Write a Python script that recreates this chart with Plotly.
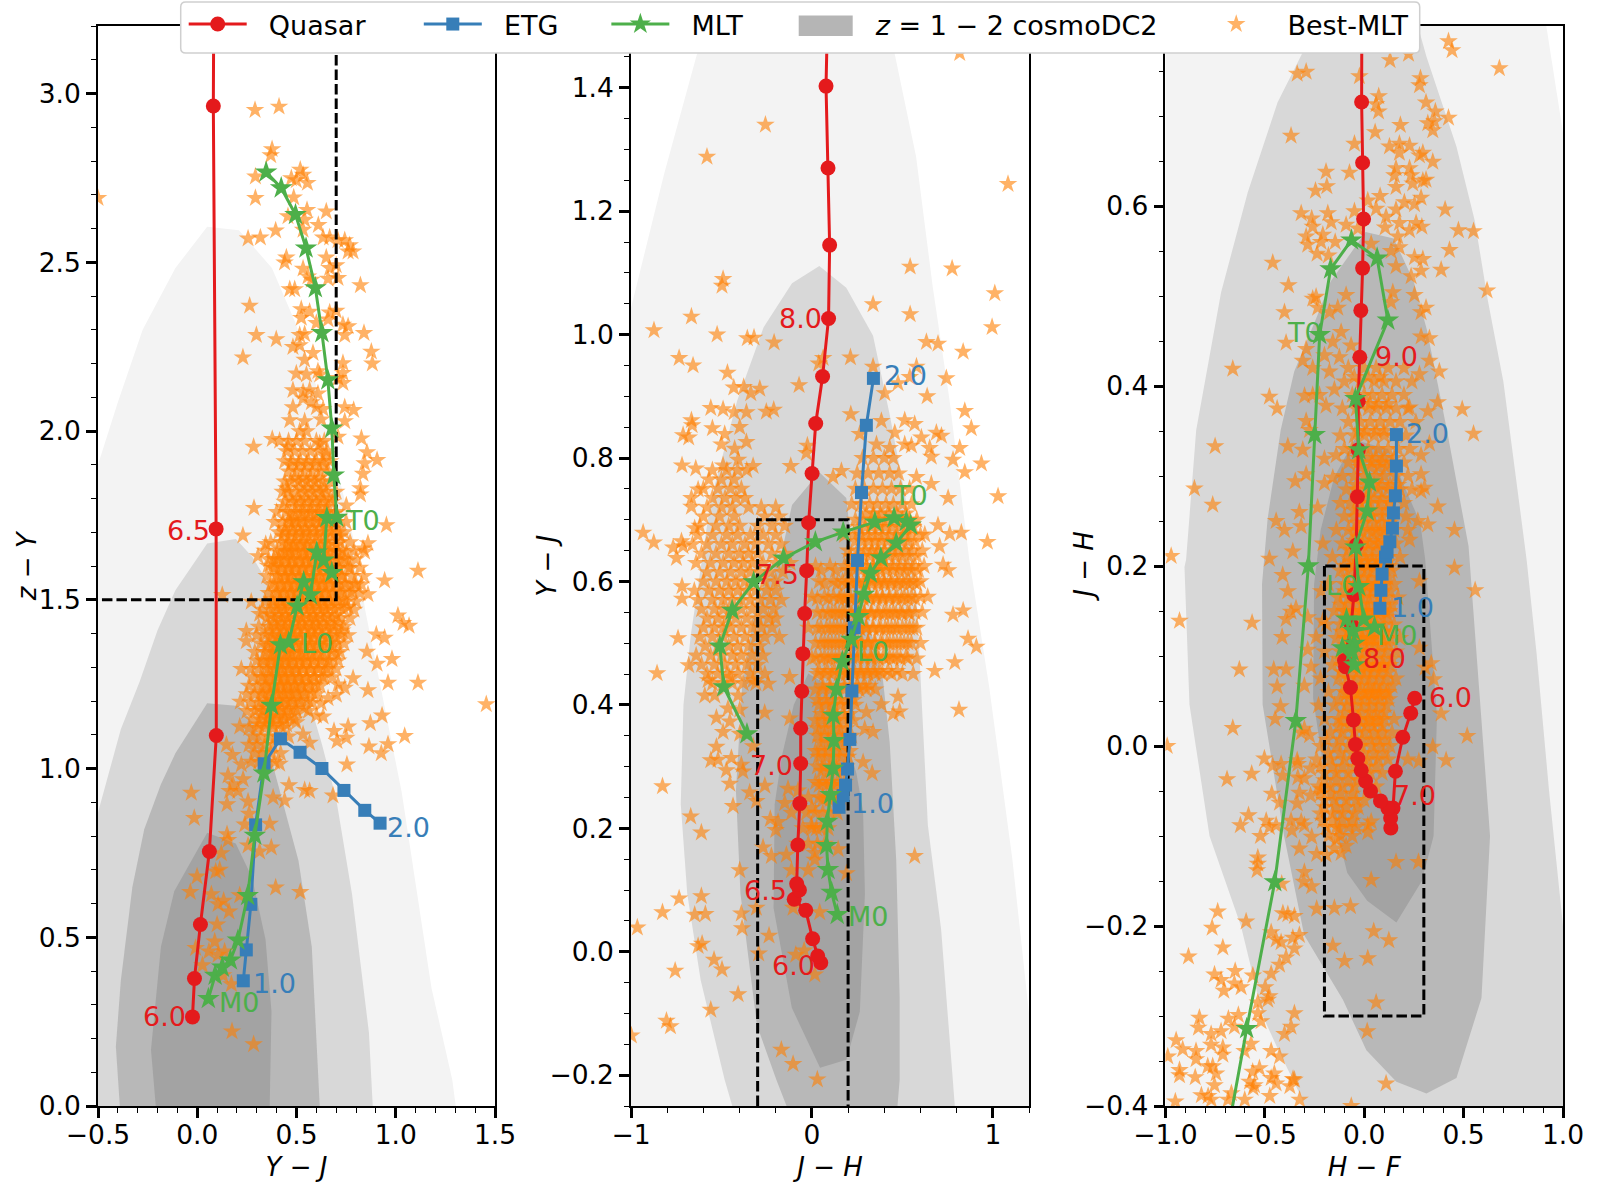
import plotly.graph_objects as go

# ---- colours
RED, BLUE, GREEN, ORANGE = "#e41a1c", "#377eb8", "#4daf4a", "#ff7f00"
LEVELS = ["#f3f3f3", "#d8d8d8", "#b8b8b8", "#a3a3a3"]

# ---- sequences (x, y)
q1 = [(-.024,.264),(-.014,.378),(.016,.538),(.061,.754),(.096,1.098),(.095,1.71),(.081,2.963),(.088,3.9)]
e1 = [(.232,.371),(.247,.4625),(.270,.5975),(.294,.833),(.337,1.014),(.419,1.088),(.518,1.048),(.628,1.0),(.739,.935),(.844,.876),(.921,.838)]
m1 = [(.056,.318),(.09,.387),(.126,.411),(.167,.432),(.205,.491),(.254,.623),(.29,.802),(.336,.986),(.374,1.187),(.419,1.366),(.461,1.374),(.503,1.481),(.536,1.553),(.57,1.514),(.602,1.641),(.678,1.58),(.637,1.617),(.653,1.743),(.703,1.744),(.688,1.869),(.678,2.008),(.658,2.151),(.628,2.291),(.595,2.424),(.548,2.542),(.495,2.641),(.423,2.72),(.347,2.767)]

q2 = [(.049,-.018),(.032,-.007),(.004,.021),(-.034,.067),(-.098,.085),(-.069,.10),(-.084,.11),(-.078,.173),(-.067,.24),(-.062,.305),(-.062,.362),(-.056,.422),(-.05,.483),(-.04,.548),(-.029,.6175),(-.018,.695),(.001,.775),(.021,.856),(.059,.932),(.092,1.026),(.098,1.145),(.089,1.27),(.078,1.4026),(.1,1.7)]
e2 = [(.15,.234),(.173,.253),(.186,.27),(.197,.296),(.21,.344),(.221,.4225),(.234,.525),(.252,.634),(.274,.744),(.301,.853),(.34,.929)]
m2 = [(.14,.06),(.109,.096),(.089,.133),(.081,.172),(.085,.211),(.103,.2545),(.117,.297),(.122,.342),(.118,.383),(.136,.425),(.168,.47),(.217,.506),(.256,.543),(.287,.579),(.323,.613),(.381,.638),(.466,.662),(.546,.691),(.522,.697),(.454,.703),(.348,.696),(.173,.68),(.019,.664),(-.157,.6375),(-.322,.599),(-.441,.553),(-.509,.495),(-.487,.429),(-.359,.353)]

q3 = [(.254,.053),(.234,.0365),(.194,.0097),(.157,-.028),(.145,-.069),(.134,-.091),(.133,-.08),(.119,-.069),(.082,-.061),(.032,-.05),(.007,-.039),(-.015,-.027),(-.032,-.014),(-.044,.0016),(-.054,.029),(-.069,.065),(-.094,.088),(-.099,.095),(-.065,.135),(-.052,.168),(-.04,.223),(-.034,.277),(-.03,.329),(-.03,.383),(-.022,.432),(-.017,.484),(-.008,.531),(-.003,.5855),(-.008,.648),(-.013,.7155),(-.01,.95)]
e3 = [(.079,.153),(.084,.173),(.09,.191),(.107,.21),(.115,.2155),(.129,.227),(.142,.242),(.147,.259),(.157,.278),(.162,.311),(.162,.346)]
m3 = [(.052,.132),(-.055,.128),(-.05,.114),(-.11,.109),(-.05,.09),(-.06,.105),(-.089,.141),(-.002,.141),(-.027,.177),(-.044,.221),(.015,.261),(.027,.293),(-.027,.329),(-.044,.386),(.119,.473),(.065,.542),(-.064,.562),(-.169,.53),(-.224,.457),(-.249,.346),(-.281,.2),(-.344,.028),(-.45,-.151),(-.591,-.314),(-.72,-.47)]

# ---- cosmoDC2 density outlines, outermost first
c1 = [
 [(-.5,0),(-.5,1.9),(-.4,2.085),(-.275,2.3),(-.11,2.483),(.05,2.605),(.21,2.595),(.376,2.483),(.495,2.32),(.61,2.115),(.745,1.79),(.796,1.656),(.846,1.47),(1.03,.93),(1.18,.35),(1.285,.077),(1.302,0)],
 [(-.5,0),(-.5,.87),(-.385,1.116),(-.29,1.258),(-.2,1.41),(-.11,1.528),(-.007,1.617),(.05,1.667),(.195,1.68),(.28,1.625),(.36,1.546),(.56,1.208),(.627,1.074),(.70,.91),(.78,.627),(.865,.217),(.884,0)],
 [(-.39,0),(-.41,.176),(-.385,.372),(-.327,.648),(-.267,.82),(-.183,.953),(-.11,1.045),(.05,1.193),(.21,1.185),(.28,1.136),(.37,1.034),(.445,.87),(.51,.727),(.577,.472),(.617,0)],
 [(-.209,0),(-.233,.167),(-.183,.472),(-.116,.636),(.05,.81),(.194,.778),(.276,.677),(.344,.493),(.374,.28),(.365,0)],
]
c2 = [
 [(-1,-.25),(-1,1.043),(-.817,1.26),(-.634,1.456),(-.6,1.5),(.44,1.5),(.457,1.456),(.576,1.288),(.668,1.077),(.76,.895),(.87,.635),(.98,.429),(1.108,.15),(1.2,-.1),(1.2,-.25)],
 [(-.44,-.25),(-.482,-.208),(-.615,-.046),(-.689,.094),(-.725,.239),(-.71,.40),(-.67,.512),(-.606,.64),(-.56,.73),(-.414,.892),(-.267,1.012),(-.11,1.083),(.041,1.111),(.19,1.076),(.338,.998),(.43,.87),(.521,.73),(.568,.636),(.604,.429),(.641,.205),(.714,.037),(.78,-.208),(.79,-.25)],
 [(-.14,-.25),(-.196,-.208),(-.304,-.119),(-.395,.094),(-.42,.261),(-.386,.429),(-.325,.54),(-.267,.596),(-.175,.636),(-.11,.724),(.041,.777),(.19,.735),(.228,.636),(.393,.44),(.43,.339),(.466,.149),(.485,-.074),(.485,-.208),(.473,-.25)],
 [(.045,-.188),(-.111,-.091),(-.212,.071),(-.206,.239),(-.166,.317),(-.10,.40),(-.02,.451),(.10,.429),(.246,.289),(.283,.227),(.293,.094),(.265,-.097),(.191,-.175)],
]
c3 = [
 [(-1,-.4),(-1,.8),(.916,.8),(1,.681),(1,-.4)],
 [(-.3,-.4),(-.31,-.393),(-.44,-.334),(-.51,-.30),(-.62,-.2),(-.778,-.1),(-.879,.046),(-.904,.199),(-.896,.207),(-.845,.351),(-.72,.504),(-.586,.615),(-.436,.715),(-.302,.774),(-.25,.8),(.27,.8),(.313,.766),(.464,.666),(.556,.584),(.622,.495),(.70,.405),(.817,.207),(.867,.103),(.93,-.05),(1,-.2),(1,-.4)],
 [(.313,-.386),(.162,-.373),(.011,-.338),(-.107,-.282),(-.302,-.21),(-.403,-.1),(-.511,.046),(-.514,.18),(-.486,.252),(-.42,.351),(-.352,.416),(-.236,.478),(-.169,.516),(.007,.571),(.149,.564),(.249,.516),(.316,.462),(.416,.351),(.525,.222),(.633,-.1),(.59,-.28),(.464,-.369)],
 [(.162,-.196),(.015,-.172),(-.085,-.141),(-.185,-.053),(-.257,.053),(-.252,.18),(-.219,.24),(-.152,.298),(-.05,.34),(.12,.33),(.282,.248),(.307,.207),(.316,.18),(.366,.034),(.349,-.1),(.29,-.15)],
]

# ---- Best-MLT, isolated stars read one by one
s1 = [(.291,2.951),(.412,2.961),(.377,2.835),(.37,2.817),(.293,2.754),(.519,2.774),(.474,2.749),(.499,2.743),(.533,2.759),(.555,2.735),(.293,2.69),(.486,2.692),(.553,2.655),(.65,2.65),(.457,2.636),(.541,2.626),(.61,2.61),(.533,2.596),(.395,2.594),(.256,2.57),(.318,2.573),(.634,2.573),(.667,2.573),(.709,2.565),(.743,2.565),(.768,2.55),(.76,2.532),(.785,2.532),(.449,2.514),(.44,2.499),(.65,2.514),(.667,2.483),(.7,2.491),(.533,2.481),(.558,2.458),(.575,2.448),(.659,2.451),(.709,2.453),(.822,2.432),(.466,2.42),(.491,2.42),(.264,2.371),(.524,2.361),(.566,2.353),(.667,2.351),(.7,2.356),(.524,2.335),(.6,2.32),(.659,2.33),(.734,2.315),(.76,2.31),(.84,2.29),(.298,2.284),(.398,2.272),(.516,2.284),(.541,2.287),(.743,2.284),(.482,2.249),(.516,2.254),(.583,2.231),(.877,2.235),(.23,2.218),(.541,2.211),(.882,2.2),(.734,2.201),(.499,2.17),(.55,2.167),(.608,2.177),(.617,2.167),(.734,2.172),(.709,2.157),(.734,2.142),(.482,2.121),(.533,2.116),(.566,2.121),(.608,2.111),(.533,2.096),(.575,2.085),(.482,2.07),(.6,2.07),(.634,2.065),(.743,2.07),(.788,2.062),(.466,2.032),(.541,2.029),(.625,2.034),(.743,2.029),(.516,1.999),(.55,1.999),(.709,1.983),(.827,1.978),(.378,1.976),(.415,1.971),(.284,1.953),(.457,1.953),(.617,1.963),(.855,1.937),(.65,1.93),(.906,1.914),(.843,1.904),(.835,1.873),(.822,1.83),(.822,1.812),(.286,1.772),(.953,1.721),(.23,1.69),(.345,1.665),(.86,1.667),(.835,1.652),(.751,1.779),
(.306,1.629),(.385,1.621),(.356,1.601),(.843,1.642),(1.112,1.586),(.944,1.557),(.86,1.516),(.827,1.545),(.126,1.514),(.272,1.494),(.314,1.458),(1.011,1.453),(1.037,1.431),(1.067,1.423),(.902,1.397),(.944,1.387),(.247,1.407),(.247,1.377),(.855,1.346),(.906,1.31),(.981,1.324),(.222,1.295),(1.112,1.254),(.961,1.254),(.785,1.267),(.86,1.232),(1.456,1.19),(.709,1.249),(.743,1.239),(.701,1.218),(.659,1.208),(.625,1.193),(.931,1.157),(.6,1.157),(.634,1.154),(.872,1.134),(.217,1.198),(.214,1.124),(.499,1.137),(.76,1.124),(.689,1.111),(1.045,1.096),(.704,1.081),(.751,1.091),(.865,1.065),(.961,1.072),(.927,1.045),(.566,1.076),(.533,1.101),(.147,1.07),(.177,1.04),(.754,1.012),(.222,1.012),(.415,1.014),(.155,.979),(.231,.968),(.18,.953),(.163,.933),(.205,.933),(.462,.95),(.541,.936),(.566,.933),(.684,.92),(-.03,.928),(.15,.894),(.382,.914),(.44,.905),(.256,.902),(-.015,.853),(.239,.834),(.365,.836),(.261,.866),(.15,.805),(.155,.788),(.256,.772),(.373,.766),(.314,.754),(.121,.749),(.093,.695),(.113,.7),(-.001,.68),(-.035,.634),(.071,.627),(.395,.647),(.519,.634),(.214,.624),(.133,.608),(.105,.598),(.16,.576),(.1,.538),(.088,.487),(-.008,.468),(.059,.458),(.105,.448),(.138,.458),(.026,.417),(.13,.387),(.172,.361),(.175,.221),(.284,.183),(-.5,2.69)]
s2 = [(-.257,1.34),(-.58,1.288),(1.084,1.244),(.817,1.456),(-.491,1.09),(-.497,1.079),(.543,1.11),(.775,1.107),(1.011,1.067),(.338,1.049),(.543,1.033),(-.666,1.029),(-.873,1.007),(.996,1.012),(-.524,1),(-.357,.994),(-.32,.995),(-.209,.987),(.633,.988),(.697,.985),(.836,.972),(-.734,.962),(-.657,.95),(-.467,.938),(.062,.962),(.038,.953),(.213,.963),(.338,.948),(.578,.948),(-.432,.914),(-.377,.915),(-.338,.905),(-.288,.912),(-.071,.918),(.476,.921),(.403,.905),(.743,.929),(.637,.9),(.541,.931),(-.559,.881),(-.491,.879),(-.43,.874),(-.362,.874),(-.252,.875),(-.211,.878),(.215,.871),(.384,.86),(.513,.861),(.568,.855),(.845,.876),(.881,.848),(-.666,.861),(-.662,.853),(-.55,.848),(-.399,.85),(-.712,.837),(-.681,.833),(-.482,.839),(.264,.839),(.458,.841),(.688,.841),(.716,.836),(-.362,.826),(-.5,.822),(-.427,.815),(-.025,.82),(.357,.822),(.43,.816),(.513,.822),(.55,.82),(.605,.833),(.651,.816),(.817,.816),(-.031,.808),(.66,.802),(.78,.797),(.937,.791),(.845,.777),(-.718,.788),(-.642,.783),(-.491,.788),(-.408,.797),(-.325,.787),(-.117,.787),(.163,.779),(.117,.769),(1.029,.738),(.753,.735),(-.933,.679),(-.874,.663),(-.767,.655),(-.721,.665),(-.712,.657),(-.648,.686),(-.666,.735),(-.666,.721),(-.629,.749),(.826,.679),(.762,.677),(.697,.691),(.706,.657),(.97,.664),(.66,.758),(.578,.769),(.624,.676),
(-.749,.638),(-.718,.592),(-.718,.572),(-.74,.508),(-.681,.464),(-.856,.451),(-.826,.268),(-.67,.219),(-.611,.193),(-.436,.236),(.836,.553),(.78,.546),(.725,.627),(.753,.618),(.863,.507),(.909,.494),(.79,.469),(.679,.455),(.813,.392),(.476,.413),(.485,.389),(.449,.385),(.384,.401),(.301,.388),(.292,.361),(.338,.356),(.283,.307),(.333,.289),(.568,.155),(.191,.127),(-.399,.132),(-.611,.09),(-.734,.086),(-.826,.064),(-.648,.06),(-.589,.061),(-.39,.062),(-.307,.071),(-.386,.038),(-.965,.039),(-.237,.026),(-.629,.009),(-.607,.013),(-.294,-.003),(-.541,-.013),(-.497,-.029),(-.756,-.031),(-.408,-.069),(-.559,-.094),(-.804,-.112),(-.782,-.121),(-.998,-.136),(-.169,-.159),(-.104,-.182),(.03,-.207),(.016,-.037),(-.043,.002),(-.089,-.005),(.043,.064),(-.104,.071),(-.224,.155),(-.141,.157),(.016,.16),(.145,.166),(-.27,.169),(.016,.149),(-.113,.132),(-.021,.132),(-.23,.215),(-.187,.21),(-.2,.197),(-.15,.241),(-.113,.225),(-.003,.205),(.025,.2),(-.26,.269),(-.344,.258),(-.307,.244),(-.132,.264),(-.077,.261),(0,.233),(-.559,.31),(-.519,.311),(-.445,.314),(-.473,.294),(-.39,.303),(-.381,.292),(-.454,.272),(-.528,.332),(-.325,.333),(-.491,.356),(-.399,.353),(-.454,.373),(-.528,.379),(-.464,.394),(-.399,.392),(-.261,.387),(-.123,.378),(-.592,.415),(-.537,.415),(-.408,.415),(-.574,.44),(-.325,.44),(-.242,.434),(-.454,.445),(-.123,.445)]
s3 = [(.424,.783),(.442,.773),(.68,.753),(.223,.769),(.13,.762),(-.024,.744),(-.337,.747),(-.292,.749),(.283,.742),(.278,.734),(.073,.722),(.06,.713),(.072,.705),(.311,.715),(.358,.705),(.32,.692),(.353,.694),(.424,.698),(.345,.684),(.182,.69),(.055,.682),(-.368,.678),(-.049,.669),(.127,.666),(.177,.669),(.228,.667),(.177,.659),(.295,.659),(.278,.656),(.345,.649),(-.192,.638),(-.074,.637),(.16,.642),(.228,.642),(.152,.634),(.236,.634),(.311,.629),(.295,.628),(-.188,.622),(-.245,.617),(.16,.621),(.244,.625),(.018,.606),(.08,.611),(.286,.609),(-.317,.592),(-.183,.592),(-.264,.586),(-.166,.582),(-.049,.594),(.06,.597),(.11,.588),(.16,.596),(.202,.604),(.253,.602),(.407,.596),(.474,.573),(.55,.572),(-.259,.577),(-.091,.579),(-.032,.575),(.105,.576),(.177,.581),(.228,.573),(.261,.581),(.29,.577),(-.292,.566),(-.208,.568),(-.284,.557),(-.217,.56),(-.146,.56),(.035,.558),(.169,.566),(.177,.554),(.135,.55),(.429,.551),(-.237,.547),(-.18,.545),(-.46,.537),(.16,.533),(.253,.543),(.295,.541),(.286,.528),(.387,.529),(-.381,.512),(.618,.506),(.236,.522),(-.091,.501),(-.242,.499),(-.259,.497),(-.234,.487),(-.401,.482),(-.175,.482),(-.133,.487),(.144,.504),(.135,.493),(.253,.501),(.311,.487),(.286,.482),(-.116,.46),(-.393,.448),(-.158,.449),(.286,.455),(.328,.453),(-.292,.441),(-.066,.445),(-.661,.419),(-.309,.428),(-.259,.42),(-.2,.434),(-.125,.432),(-.175,.416),(.328,.428),(.378,.416),(.278,.413),(-.477,.388),(-.438,.375),(-.3,.389),(-.225,.39),(-.259,.39),(-.192,.378),(-.15,.396),(.228,.376),(.32,.372),(.37,.382),(.493,.374),(-.292,.361),(-.275,.351),(.55,.347),(-.75,.333),(-.384,.333),(-.309,.329),(-.2,.319),(-.141,.323),(.286,.323),(.328,.336),(-.854,.286),(-.762,.268),(-.347,.294),(-.292,.302),(-.158,.298),(-.2,.292),(.286,.302),(.303,.287),(.286,.283),(-.443,.25),(-.401,.24),(-.326,.26),(-.317,.244),(-.234,.265),(.37,.266),(.454,.24),(.27,.25),(.32,.246),(.228,.229),(-.971,.211),(-.359,.216),(-.208,.225),
(-.929,.139),(-.564,.137),(.454,.198),(.558,.173),(-.477,.208),(-.41,.19),(-.384,.172),(-.343,.153),(-.368,.149),(-.393,.141),(-.413,.121),(-.284,.143),(-.242,.121),(-.217,.172),(-.208,.139),(-.628,.085),(-.455,.085),(-.393,.085),(.337,.092),(.306,.087),(.278,.109),(.278,.183),(.35,.074),(-.284,.107),(-.267,.088),(-.301,.067),(-.438,.066),(-.421,.044),(-.448,.03),(-.661,.02),(.387,.036),(.518,.011),(.345,-.001),(.412,-.016),(.275,-.017),(.219,-.015),(-.991,0),(-.301,.019),(-.275,.012),(-.317,.015),(-.502,-.014),(-.46,-.022),(-.418,-.02),(-.337,-.016),(-.334,-.02),(-.27,-.025),(-.69,-.037),(-.566,-.031),(-.41,-.033),(-.334,-.035),(-.301,-.036),(-.217,-.048),(-.465,-.053),(-.326,-.052),(-.27,-.055),(-.426,-.063),(-.337,-.064),(-.582,-.077),(-.623,-.088),(-.493,-.083),(-.477,-.09),(-.443,-.088),(-.368,-.083),(-.317,-.084),(-.301,-.088),(-.364,-.094),(-.522,-.1),(-.264,-.101),(-.326,-.114),(-.239,-.12),(-.192,-.121),(-.125,-.092),(-.141,-.104),(-.091,-.111),(-.15,-.114),(-.116,-.119),(.018,-.088),(.035,-.084),(.018,-.096),(.16,-.129),(.273,-.129),(-.535,-.124),(-.535,-.131),(-.539,-.138),(-.301,-.14),(-.304,-.151),(-.264,-.156),(.035,-.149),(-.737,-.184),(-.415,-.153),(-.239,-.181),(-.15,-.18),(-.069,-.178),(-.594,-.195),(-.765,-.202),(-.409,-.186),(-.384,-.187),(-.351,-.189),(.048,-.206),(.124,-.216),(-.158,-.222),(-.099,-.239),(.018,-.236),(.06,-.285),(.015,-.317),(.11,-.375),
(-.468,-.207),(-.443,-.215),(-.418,-.218),(-.359,-.213),(-.326,-.21),(-.351,-.225),(-.711,-.224),(-.884,-.234),(-.393,-.235),(-.426,-.243),(-.753,-.254),(-.649,-.25),(-.468,-.253),(-.56,-.255),(-.72,-.26),(-.653,-.264),(-.619,-.268),(-.706,-.272),(-.498,-.268),(-.477,-.278),(-.485,-.282),(-.535,-.285),(-.351,-.297),(-.535,-.297),(-.633,-.299),(-.683,-.303),(-.829,-.302),(-.519,-.306),(-.834,-.313),(-.653,-.312),(-.72,-.317),(-.77,-.32),(-.368,-.312),(-.401,-.32),(-.946,-.327),(-.77,-.332),(-.846,-.339),(-.711,-.335),(-.602,-.339),(-.569,-.331),(-.468,-.339),(-.426,-.345),(-.913,-.337),(-.846,-.348),(-.711,-.343),(-.988,-.345),(-.787,-.356),(-.762,-.356),(-.527,-.358),(-.561,-.362),(-.452,-.364),(-.929,-.36),(-.929,-.366),(-.745,-.364),(-.85,-.368),(-.577,-.373),(-.351,-.371),(-.468,-.369),(-.753,-.377),(-.552,-.377),(-.443,-.375),(-.819,-.388),(-.785,-.389),(-.769,-.393),(-.685,-.393),(-.668,-.386),(-.601,-.393),(-.559,-.38),(-.475,-.389),(-.325,-.393),(-.065,-.4),(-.374,-.378),(-.358,-.37),(-.95,-.395)]

# ---- Best-MLT, dense clouds: estimated y -> x values
d1 = {1.97:[.46,.5,.54,.6,.64],1.94:[.45,.49,.53,.57,.61,.65],1.91:[.44,.48,.52,.56,.6,.63,.67],1.88:[.46,.5,.54,.58,.62,.66],1.85:[.44,.47,.51,.55,.59,.63,.67],1.82:[.43,.46,.5,.54,.58,.62,.65,.7],1.79:[.44,.48,.52,.56,.6,.64,.68],1.76:[.4,.45,.49,.53,.57,.61,.65,.7],1.73:[.39,.43,.47,.5,.54,.58,.62,.66,.7,.75],1.7:[.41,.44,.48,.52,.55,.59,.63,.67,.71,.74],1.67:[.37,.42,.46,.49,.53,.56,.6,.64,.68,.72,.77],1.645:[.34,.4,.44,.47,.5,.54,.57,.61,.65,.69,.73,.79],1.62:[.36,.41,.45,.48,.52,.55,.59,.62,.66,.7,.74,.8],1.595:[.38,.42,.46,.49,.53,.56,.6,.63,.67,.71,.76,.82],1.57:[.35,.4,.44,.47,.51,.54,.58,.61,.65,.69,.73,.78,.84],1.545:[.37,.41,.45,.48,.52,.55,.59,.62,.66,.7,.75,.8],1.52:[.36,.4,.43,.47,.5,.54,.57,.61,.64,.68,.72,.77,.82],1.495:[.34,.38,.42,.46,.49,.53,.56,.6,.63,.67,.71,.75,.8],1.47:[.33,.37,.41,.44,.48,.51,.55,.58,.62,.65,.69,.74,.79],1.445:[.35,.39,.43,.46,.5,.53,.57,.6,.64,.68,.72,.77],1.42:[.31,.36,.4,.44,.47,.51,.54,.58,.61,.65,.69,.74],1.395:[.3,.34,.38,.42,.45,.49,.52,.56,.59,.63,.67,.72,.76],1.37:[.32,.36,.4,.43,.47,.5,.54,.57,.61,.65,.7,.74],1.345:[.29,.34,.38,.41,.45,.48,.52,.55,.59,.63,.68,.72],1.32:[.3,.33,.37,.4,.44,.47,.51,.54,.58,.62,.66,.71],1.295:[.27,.31,.35,.39,.42,.46,.5,.53,.57,.61,.65,.7],1.27:[.28,.32,.36,.4,.43,.47,.51,.55,.59,.64,.68],1.245:[.26,.3,.34,.38,.42,.45,.49,.53,.57,.62],1.22:[.25,.29,.33,.37,.41,.45,.49,.54,.6],1.195:[.27,.31,.35,.39,.43,.47,.52,.58],1.17:[.25,.29,.33,.37,.41,.45,.5,.56],1.145:[.28,.32,.36,.4,.44,.49],1.12:[.26,.3,.34,.38,.43],1.095:[.28,.32,.36,.4,.46],1.07:[.26,.3,.34,.38],1.045:[.29,.33,.37,.42],1.02:[.27,.31,.35,.39],
1.9:[.47,.51,.55,.59,.64],1.86:[.49,.53,.57,.61],1.83:[.45,.52,.56,.6,.64],1.8:[.47,.51,.55,.59,.63,.67],1.775:[.43,.5,.54,.58,.62,.66],1.755:[.47,.52,.56,.6,.64,.69],1.735:[.46,.49,.525,.56,.6,.63,.67],1.712:[.44,.475,.51,.545,.58,.615,.65,.69],1.688:[.43,.465,.5,.535,.57,.605,.64,.68,.72],1.663:[.45,.485,.52,.55,.59,.625,.66,.7],1.64:[.42,.455,.49,.53,.565,.6,.635,.67,.71,.75],1.616:[.4,.435,.47,.505,.54,.575,.61,.645,.68,.72,.76],1.593:[.39,.43,.465,.5,.535,.57,.605,.64,.675,.715,.77],1.571:[.41,.445,.48,.515,.55,.585,.62,.655,.69,.725],1.548:[.385,.425,.46,.495,.53,.565,.6,.635,.67,.705,.745,.79],1.524:[.405,.44,.475,.51,.545,.58,.615,.65,.685,.73,.78],1.501:[.375,.415,.45,.485,.52,.555,.59,.625,.66,.695,.74],1.479:[.395,.43,.465,.5,.535,.57,.605,.64,.675,.72,.76],1.455:[.37,.41,.445,.48,.515,.55,.585,.62,.655,.7],1.432:[.385,.42,.455,.49,.525,.56,.595,.63,.67,.71],1.409:[.36,.4,.435,.47,.505,.54,.575,.61,.65,.69,.73],1.386:[.375,.41,.445,.48,.515,.55,.585,.62,.66,.7],1.363:[.35,.39,.425,.46,.495,.53,.565,.6,.64,.68],1.34:[.365,.4,.435,.47,.505,.54,.575,.61,.65,.7],1.317:[.34,.38,.415,.45,.485,.52,.555,.59,.63,.67],1.294:[.36,.395,.43,.465,.5,.535,.57,.61,.66],1.271:[.33,.375,.41,.445,.48,.515,.55,.59,.63],1.248:[.35,.385,.42,.455,.49,.525,.56,.6],1.225:[.32,.365,.4,.435,.47,.505,.54,.58],1.202:[.34,.375,.41,.445,.48,.515,.56],1.178:[.31,.355,.39,.425,.46,.495,.54],1.155:[.33,.365,.4,.435,.47],1.13:[.31,.345,.38,.415,.45]}
d2 = {.78:[-.55,-.47,-.41,-.36],.75:[-.6,-.52,-.45,-.39],.72:[-.58,-.5,-.44,-.35,-.28,-.2],.69:[-.62,-.53,-.46,-.4,-.3,-.22,-.15],.66:[-.66,-.58,-.5,-.44,-.37,-.31,-.24,-.17],.63:[-.64,-.56,-.49,-.43,-.38,-.33,-.27,-.2,-.12],.6:[-.6,-.53,-.47,-.42,-.37,-.32,-.26,-.2],.57:[-.63,-.55,-.49,-.44,-.39,-.34,-.29,-.23,-.17],.54:[-.58,-.52,-.47,-.42,-.36,-.3,-.24,-.2],.51:[-.62,-.55,-.49,-.43,-.37,-.31,-.26,-.18],.48:[-.64,-.56,-.5,-.44,-.39,-.33,-.27],.45:[-.58,-.52,-.47,-.41,-.34,-.26],
.765:[-.57,-.5,-.43],.735:[-.55,-.48,-.42,-.37],.705:[-.6,-.51,-.43,-.26,-.18],.6751:[-.63,-.55,-.47,-.41,-.34,-.27,-.2],.645:[-.61,-.53,-.46,-.4,-.35,-.3,-.22,-.15],.615:[-.58,-.51,-.45,-.39,-.34,-.29,-.23,-.16],.585:[-.65,-.57,-.51,-.46,-.41,-.36,-.31,-.25,-.2],.555:[-.61,-.54,-.49,-.44,-.39,-.33,-.27,-.21],.5251:[-.6,-.54,-.49,-.45,-.39,-.33,-.28,-.22],.495:[-.59,-.52,-.46,-.41,-.35,-.29],.465:[-.61,-.54,-.48,-.42,-.36,-.3],.435:[-.55,-.49,-.44,-.38,-.31],
.8:[.28,.34,.4,.45],.775:[.25,.31,.37,.43,.48],.7501:[.24,.29,.34,.39,.44,.49,.54],.725:[.22,.27,.32,.36,.41,.45,.5,.55],.7:[.24,.28,.33,.37,.41,.46,.5,.54,.58],.675:[.18,.23,.27,.31,.35,.39,.43,.47,.51,.55,.6],.65:[.2,.25,.29,.33,.36,.4,.44,.48,.52,.56,.61],.625:[.02,.1,.18,.22,.26,.3,.34,.37,.41,.45,.49,.53,.57,.62],.6001:[.04,.12,.17,.21,.25,.29,.33,.37,.4,.44,.48,.52,.56,.6],.575:[0,.07,.12,.16,.2,.24,.28,.32,.36,.39,.43,.47,.51,.55,.6,.64],.55:[.03,.09,.13,.17,.21,.25,.29,.33,.37,.41,.45,.49,.53,.57,.61],.525:[-.02,.05,.1,.14,.18,.22,.26,.3,.34,.38,.42,.46,.5,.54,.58],.5:[.02,.07,.11,.15,.19,.23,.27,.31,.35,.39,.43,.47,.51,.55,.6],.475:[0,.05,.09,.13,.17,.21,.25,.29,.33,.37,.41,.45,.49,.53,.58],.4501:[.03,.07,.11,.15,.19,.23,.27,.31,.35,.39,.44,.5,.56],.425:[.02,.06,.1,.14,.18,.22,.26,.3,.35],.4:[.04,.08,.12,.16,.2,.24],.375:[.02,.06,.1,.14,.18,.23],.35:[.03,.07,.11,.15,.19,.22],.325:[.02,.05,.09,.13,.17,.21],.3:[.03,.07,.11,.15,.19],.275:[.02,.06,.1,.14,.18],.25:[-.02,.04,.08,.12,.16],.225:[-.03,.02,.06,.1,.14],.2:[-.05,0,.05,.09],.175:[-.08,-.02,.03,.07],
.71:[.3,.34,.38,.42,.47,.52],.688:[.26,.295,.33,.37,.405,.44,.48,.52,.56],.665:[.24,.28,.315,.35,.385,.42,.455,.49,.53,.57],.641:[.21,.25,.285,.32,.355,.39,.425,.46,.495,.535,.58],.618:[.05,.13,.2,.235,.27,.305,.34,.375,.41,.445,.48,.515,.55,.59],.596:[.07,.14,.19,.225,.26,.295,.33,.365,.4,.435,.47,.505,.54,.58],.572:[.03,.09,.15,.18,.215,.25,.285,.32,.355,.39,.425,.46,.495,.53,.57],.548:[.06,.11,.15,.185,.22,.255,.29,.325,.36,.395,.43,.465,.5,.54],.524:[.03,.08,.12,.16,.195,.23,.265,.3,.335,.37,.405,.44,.475,.52,.56],.501:[.05,.09,.13,.17,.205,.24,.275,.31,.345,.38,.415,.45,.49,.53],.478:[.02,.07,.11,.15,.185,.22,.255,.29,.325,.36,.395,.43,.47,.52],.455:[.04,.085,.125,.165,.2,.235,.27,.305,.34,.375,.42,.47],.431:[.06,.1,.14,.18,.215,.25,.285,.32],.408:[.03,.075,.115,.155,.195,.23],.385:[.05,.09,.13,.17,.21],.362:[.03,.07,.11,.15,.19],.339:[.05,.09,.13,.17],.316:[.035,.075,.115,.155,.2],.293:[.055,.095,.135,.175],.27:[.04,.08,.12,.16],.247:[.06,.1,.14]}
d3 = {.42:[-.08,0,.06,.12,.2],.405:[-.1,-.02,.05,.1,.16,.24],.39:[-.06,0,.04,.09,.14,.2],.375:[-.11,-.04,.02,.06,.11,.16,.22],.36:[-.08,-.02,.03,.08,.13,.18,.26],.345:[-.12,-.05,0,.05,.1,.15,.21],.33:[-.1,-.06,.02,.07,.12,.17,.23],.315:[-.08,-.03,.04,.09,.14,.2],.3:[-.11,-.05,0,.06,.1,.16,.22],.285:[-.09,-.04,.02,.07,.12,.18,.24],.27:[-.12,-.07,-.02,.03,.08,.13,.2],.255:[-.1,-.05,0,.04,.09,.14,.21],.24:[-.14,-.08,-.03,.02,.06,.1,.15,.22],.225:[-.11,-.06,-.01,.03,.07,.11,.16],.21:[-.16,-.09,-.04,0,.04,.08,.12,.18],.195:[-.12,-.07,-.03,.01,.05,.09,.14],.18:[-.18,-.1,-.05,-.02,.02,.06,.1,.15],.165:[-.13,-.08,-.04,0,.03,.07,.11,.17],.15:[-.15,-.1,-.06,-.02,.01,.05,.08,.13],.135:[-.19,-.12,-.07,-.04,0,.03,.06,.1,.15],.12:[-.14,-.09,-.05,-.01,.02,.05,.09,.13,.18],.105:[-.2,-.12,-.07,-.03,.01,.04,.07,.11,.16],.09:[-.16,-.1,-.06,-.02,.02,.06,.09,.13],.075:[-.22,-.13,-.08,-.04,0,.03,.07,.11,.16],.06:[-.18,-.1,-.06,-.02,.02,.05,.08,.12],.045:[-.23,-.15,-.09,-.05,-.01,.03,.07,.11],.03:[-.2,-.13,-.07,-.03,.02,.06,.1,.15],.015:[-.17,-.11,-.05,0,.05,.09,.14],0:[-.22,-.14,-.08,-.02,.04,.08,.13],-.015:[-.24,-.17,-.1,-.04,.02,.07,.12],-.03:[-.2,-.14,-.08,-.02,.03,.09],-.045:[-.23,-.17,-.11,-.05,.02,.06],-.06:[-.2,-.15,-.09,-.04,0],-.075:[-.22,-.16,-.11,-.05],-.09:[-.19,-.14,-.08,-.04],
.32:[-.03,.02,.06,.1,.15],.29:[-.04,.01,.05,.09,.13,.17],.262:[-.05,-.01,.03,.07,.11,.15],.238:[-.05,-.01,.04,.08,.12],.218:[-.08,-.02,.02,.06,.1],.2:[-.1,-.05,-.015,.02,.06,.1,.13],.187:[-.09,-.04,0,.03,.07,.12],.172:[-.1,-.06,-.025,.01,.045,.085,.13],.157:[-.12,-.08,-.04,-.005,.03,.065,.1,.14],.143:[-.1,-.06,-.025,.01,.045,.08,.12],.127:[-.115,-.08,-.035,0,.035,.07,.105,.14],.112:[-.1,-.06,-.02,.015,.05,.085,.125],.097:[-.13,-.085,-.045,-.01,.025,.06,.1,.14],.082:[-.115,-.07,-.03,.01,.045,.08,.12],.067:[-.1,-.055,-.015,.025,.06,.095,.14],.052:[-.125,-.075,-.035,.005,.04,.08,.125],.037:[-.1,-.055,-.015,.025,.06,.1],.022:[-.13,-.08,-.035,.01,.045,.09],
.31:[-.02,.03,.07,.11],.275:[-.03,.01,.05,.09,.13],.248:[-.04,0,.05,.09,.13],.228:[-.05,0,.05,.09],.205:[-.07,-.03,.01,.04,.08,.12],.178:[-.08,-.035,.015,.055,.1],.148:[-.09,-.05,-.01,.025,.06,.11],.118:[-.09,-.04,-.005,.035,.07,.11],.088:[-.11,-.06,-.02,.015,.055,.1],.058:[-.09,-.04,0,.035,.07,.11],.028:[-.11,-.06,-.02,.03,.075],.007:[-.19,-.12,-.06,-.01,.03,.07,.11],-.008:[-.18,-.12,-.06,0,.05,.1],-.023:[-.22,-.16,-.11,-.05,.01,.06],-.038:[-.2,-.14,-.08,-.03],-.053:[-.22,-.17,-.12,-.06],-.068:[-.2,-.14,-.09,-.03],-.083:[-.21,-.16,-.11,-.06],-.1:[-.18,-.12,-.06],.35:[-.03,.01,.06,.1],.38:[-.02,.03,.07,.12],.41:[-.05,.02,.08]}

# ---- dashed colour-selection boundaries
b1 = [(.7,3.2),(.7,1.5),(-.5,1.5)]
b2 = [(-.3,-.25),(-.3,.7),(.2,.7),(.2,-.25)]
b3 = [(-.2,.2),(-.2,-.3),(.3,-.3),(.3,.2),(-.2,.2)]

# ---- point labels: panel, x, y, text, colour, anchor, xshift, yshift
labels = [
 (1,-.024,.264,"6.0",RED,"right",-8,0),(1,.095,1.71,"6.5",RED,"right",-8,-2),
 (1,.232,.371,"1.0",BLUE,"left",11,-3),(1,.921,.838,"2.0",BLUE,"left",8,-4),
 (1,.056,.318,"M0",GREEN,"left",12,-4),(1,.461,1.374,"L0",GREEN,"left",13,-1),(1,.703,1.744,"T0",GREEN,"left",9,-3),
 (2,.049,-.018,"6.0",RED,"right",-8,-3),(2,-.098,.099,"6.5",RED,"right",-9,0),(2,-.062,.305,"7.0",RED,"right",-10,-2),(2,-.029,.6175,"7.5",RED,"right",-10,-4),(2,.092,1.026,"8.0",RED,"right",-9,0),
 (2,.15,.234,"1.0",BLUE,"left",13,4),(2,.34,.929,"2.0",BLUE,"left",12,3),
 (2,.14,.06,"M0",GREEN,"left",12,-2),(2,.217,.506,"L0",GREEN,"left",7,-12),(2,.454,.703,"T0",GREEN,"left",0,22),
 (3,.254,.053,"6.0",RED,"left",15,1),(3,.134,-.055,"7.0",RED,"left",3,0),(3,-.094,.088,"8.0",RED,"left",18,8),(3,-.022,.432,"9.0",RED,"left",16,1),
 (3,.079,.153,"1.0",BLUE,"left",12,1),(3,.162,.346,"2.0",BLUE,"left",11,1),
 (3,.052,.132,"M0",GREEN,"left",3,-8),(3,-.027,.177,"L0",GREEN,"right",-3,1),(3,-.224,.457,"T0",GREEN,"right",0,2),
]
y_titles = [("<i>z</i> − <i>Y</i>", 27.5), ("<i>Y</i> − <i>J</i>", 547), ("<i>J</i> − <i>H</i>", 1084)]

FONT = "DejaVu Sans"
NB = "\u00a0"
THIN = "\u2009"
fig = go.Figure()
panels = [
 (c1, s1, d1, b1, q1, e1, m1),
 (c2, s2, d2, b2, q2, e2, m2),
 (c3, s3, d3, b3, q3, e3, m3),
]
def xy(points):
    return [p[0] for p in points], [p[1] for p in points]

for i, (cont, stars, dense, box, q, e, m) in enumerate(panels):
    ax = dict(xaxis="x" if i == 0 else f"x{i+1}", yaxis="y" if i == 0 else f"y{i+1}")
    first = i == 0
    for k, poly in enumerate(cont):
        px, py = xy(poly + poly[:1])
        fig.add_trace(go.Scatter(x=px, y=py, mode="lines", fill="toself", fillcolor=LEVELS[k], line=dict(width=0, color=LEVELS[k]),
            showlegend=False, hoverinfo="skip", **ax))
    sx, sy = xy(stars)
    for yv, xs in dense.items():
        sx += xs
        sy += [yv] * len(xs)
    fig.add_trace(go.Scatter(x=sx, y=sy, mode="markers", name=NB * 2 + "Best-MLT" + NB, showlegend=first, legendrank=5,
        marker=dict(symbol="star", size=14, color=ORANGE, opacity=0.6, line=dict(width=0)), **ax))
    bx, by = xy(box)
    fig.add_trace(go.Scatter(x=bx, y=by, mode="lines", showlegend=False, hoverinfo="skip",
        line=dict(color="black", width=3, dash="10.5px,4px"), **ax))
    for pts, name, col, sym, size, rank, extra in [(q, "Quasar", RED, "circle", 15, 1, THIN), (e, "ETG", BLUE, "square", 13, 2, ""), (m, "MLT", GREEN, "star", 17, 3, "")]:
        lx, ly = xy(pts)
        fig.add_trace(go.Scatter(x=lx, y=ly, mode="lines+markers", name=NB * 2 + name + NB * 5 + extra, showlegend=first, legendrank=rank,
            line=dict(color=col, width=3), marker=dict(symbol=sym, size=size, color=col, line=dict(width=0)), **ax))
# legend slot for the density contours; its key is the rectangle in `shapes` below
fig.add_trace(go.Scatter(x=[None], y=[None], mode="lines", name=NB * 2 + "<i>z</i> = 1 − 2 cosmoDC2" + NB * 4 + THIN, legendrank=4,
    line=dict(color="rgba(0,0,0,0)", width=1)))

W, H = 1600, 1200
L, R, T, B = 98.3, 1563.3, 26, 1106
def fx(px):
    return (px - L) / (R - L)
def fy(py):
    return (B - py) / (B - T)
def dom(a, b):
    return [fx(a), fx(b)]

annotations = []
for p, x, y, text, col, anchor, xs, ys in labels:
    annotations.append(dict(xref="x" if p == 1 else f"x{p}", yref="y" if p == 1 else f"y{p}", x=x, y=y, text=text, showarrow=False,
        xanchor=anchor, yanchor="middle", xshift=xs + (4 if anchor == "right" else -3), yshift=ys, font=dict(family=FONT, size=27, color=col)))
for text, px in y_titles:
    annotations.append(dict(xref="paper", yref="paper", x=fx(px), y=fy(566), text=text, textangle=-90, showarrow=False,
        xanchor="center", yanchor="middle", font=dict(family=FONT, size=26, color="black")))

# rounded legend frame and the contour swatch sit under a transparent native legend
def rounded(x0, y0, x1, y1, r):
    return (f"M {fx(x0+r)} {fy(y0)} L {fx(x1-r)} {fy(y0)} Q {fx(x1)} {fy(y0)} {fx(x1)} {fy(y0+r)} "
            f"L {fx(x1)} {fy(y1-r)} Q {fx(x1)} {fy(y1)} {fx(x1-r)} {fy(y1)} L {fx(x0+r)} {fy(y1)} "
            f"Q {fx(x0)} {fy(y1)} {fx(x0)} {fy(y1-r)} L {fx(x0)} {fy(y0+r)} Q {fx(x0)} {fy(y0)} {fx(x0+r)} {fy(y0)} Z")
shapes = [
    dict(type="path", xref="paper", yref="paper", layer="above", path=rounded(181, 2, 1420, 53, 5), fillcolor="white", line=dict(color="#cfcfcf", width=1.5)),
    dict(type="rect", xref="paper", yref="paper", layer="above", x0=fx(799), x1=fx(853), y0=fy(36), y1=fy(15.5), fillcolor="#b5b5b5", line=dict(width=0)),
]

def axis_style(**kw):
    d = dict(showgrid=False, zeroline=False, showline=True, linecolor="black", linewidth=1.6, mirror=True,
             ticks="outside", ticklen=10, tickwidth=2.6, tickcolor="black", layer="above traces",
             tickfont=dict(family=FONT, size=26.5, color="black"))
    d.update(kw)
    return d

def title(text, standoff):
    return dict(text=text, font=dict(family=FONT, size=26, color="black"), standoff=standoff)

def minor(step):
    return dict(ticks="outside", ticklen=5, tickwidth=1.3, tickcolor="black", dtick=step, tick0=0, showgrid=False)

fig.update_layout(
    width=W, height=H, margin=dict(l=L, r=W - R, t=T, b=H - B, autoexpand=False), paper_bgcolor="white", plot_bgcolor="white",
    font=dict(family=FONT, size=26, color="black"), annotations=annotations, shapes=shapes,
    legend=dict(orientation="h", x=fx(184), y=fy(0), xanchor="left", yanchor="top", bgcolor="rgba(0,0,0,0)",
                borderwidth=0, itemwidth=58, font=dict(family=FONT, size=27)),
    xaxis=axis_style(domain=dom(98.3, 495.3), anchor="y", range=[-.5, 1.5], dtick=.5, tick0=0, tickformat=".1f", ticklabelstandoff=-6, minor=minor(.1), title=title("<i>Y</i> − <i>J</i>", 9)),
    yaxis=axis_style(domain=[0, 1], anchor="x", range=[0, 3.2], dtick=.5, tick0=0, tickformat=".1f", minor=minor(.1)),
    xaxis2=axis_style(domain=dom(631.3, 1029.3), anchor="y2", range=[-1, 1.2], dtick=1, tick0=0, tickformat="d", ticklabelstandoff=-6, minor=minor(.2), title=title("<i>J</i> − <i>H</i>", 9)),
    yaxis2=axis_style(domain=[0, 1], anchor="x2", range=[-.25, 1.5], dtick=.2, tick0=0, tickformat=".1f", minor=minor(.05)),
    xaxis3=axis_style(domain=dom(1165.7, 1563.3), anchor="y3", range=[-1, 1], dtick=.5, tick0=0, tickformat=".1f", ticklabelstandoff=-6, minor=minor(.1), title=title("<i>H</i> − <i>F</i>", 9)),
    yaxis3=axis_style(domain=[0, 1], anchor="x3", range=[-.4, .8], dtick=.2, tick0=0, tickformat=".1f", minor=minor(.05)),
)
fig.write_html("out.html", config={"displayModeBar": False}, post_script="document.body.style.margin='0';")
